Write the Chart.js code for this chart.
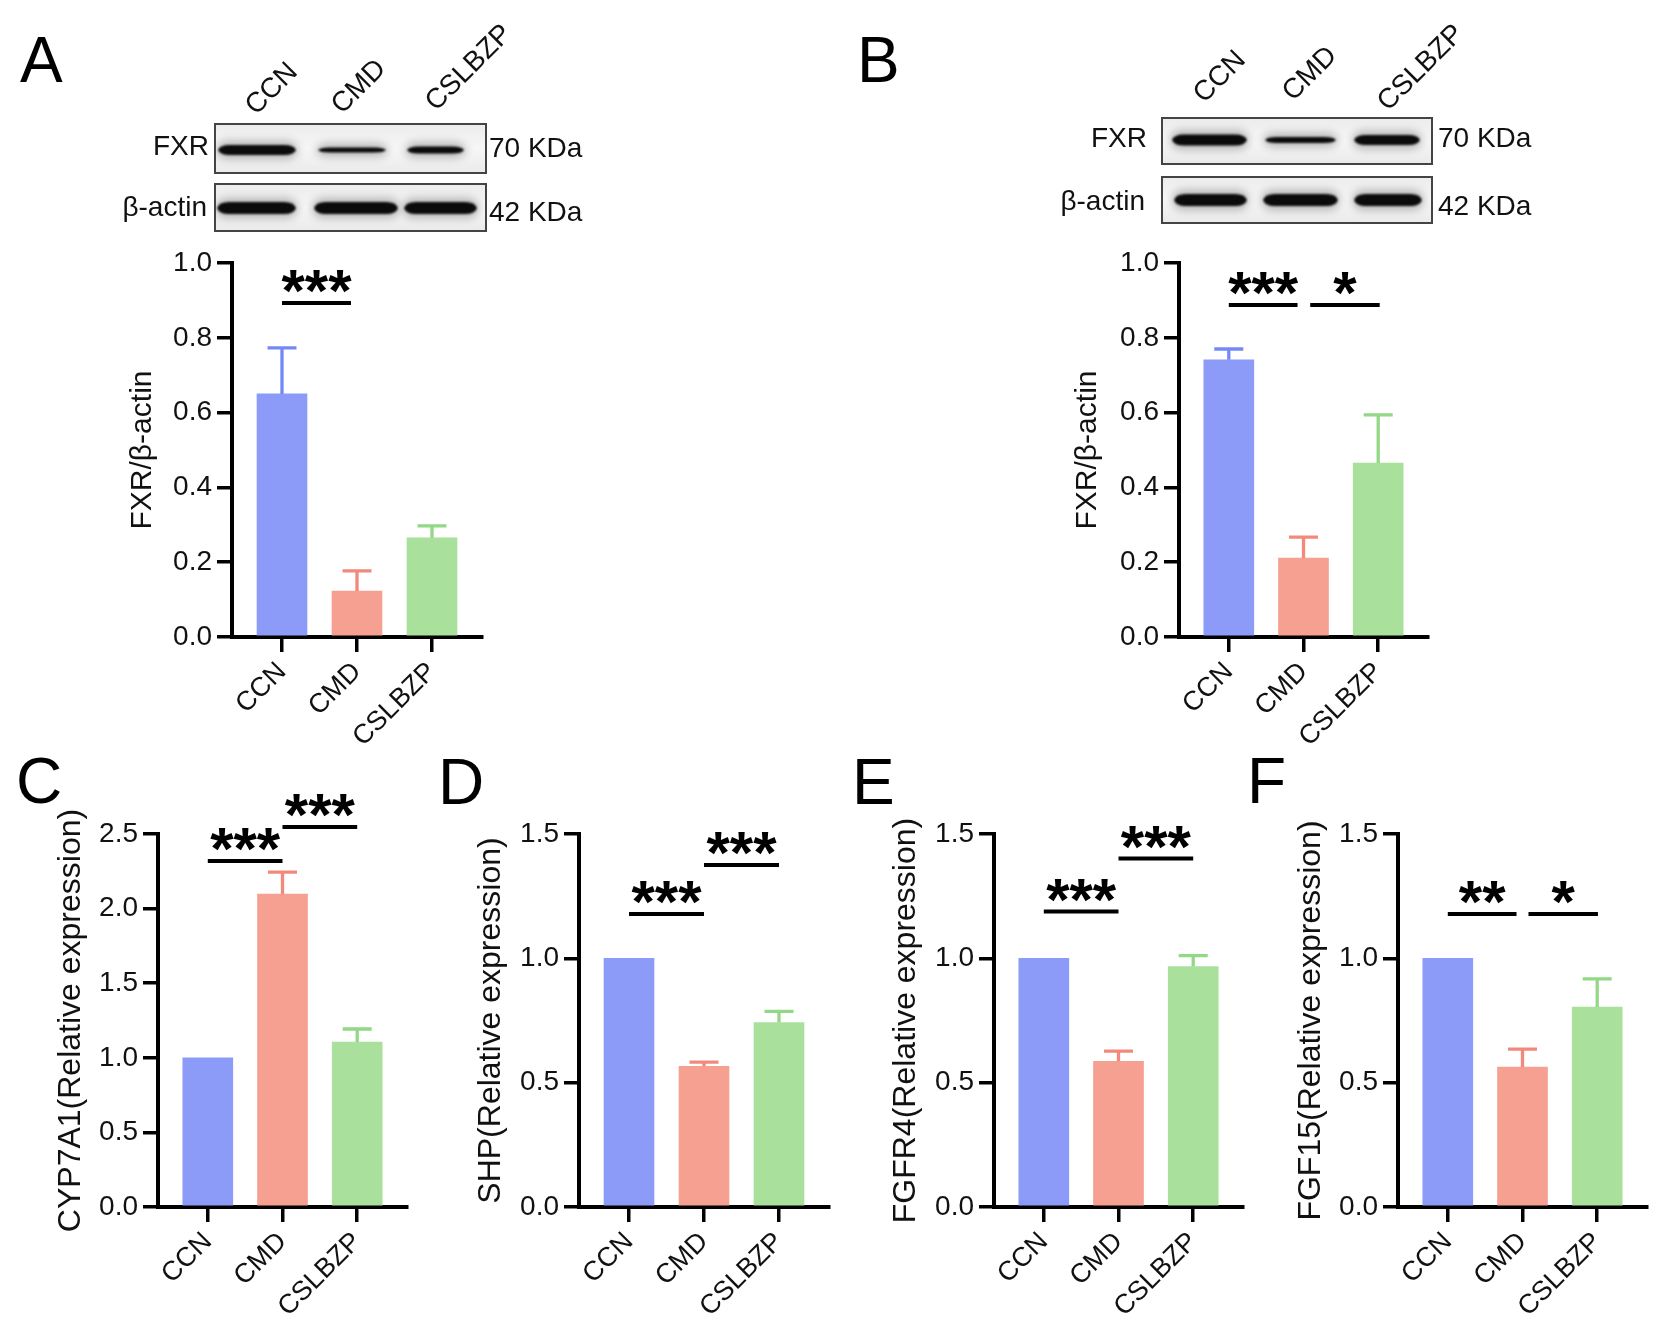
<!DOCTYPE html>
<html>
<head>
<meta charset="utf-8">
<script src="https://cdn.jsdelivr.net/npm/chart.js@4.4.1/dist/chart.umd.min.js"></script>
<style>
  body { margin: 0; background: #fff; width: 1662px; height: 1338px; position: relative; overflow: hidden; }
  canvas { position: absolute; }
</style>
</head>
<body>
<canvas id="pA"></canvas>
<canvas id="pB"></canvas>
<canvas id="pC"></canvas>
<canvas id="pD"></canvas>
<canvas id="pE"></canvas>
<canvas id="pF"></canvas>
<script>
// ===== données =====
const groups = ["CCN", "CMD", "CSLBZP"];

const fxrA = [0.650, 0.123, 0.265];
const fxrAErr = [0.123, 0.054, 0.032];
const fxrB = [0.741, 0.211, 0.465];
const fxrBErr = [0.029, 0.056, 0.129];
const cyp7a1 = [1.0, 2.098, 1.106];
const cyp7a1Err = [0, 0.147, 0.087];
const shp = [1.0, 0.566, 0.742];
const shpErr = [0, 0.017, 0.045];
const fgfr4 = [1.0, 0.586, 0.967];
const fgfr4Err = [0, 0.041, 0.044];
const fgf15 = [1.0, 0.563, 0.804];
const fgf15Err = [0, 0.072, 0.113];

// graduations
const yTicksFxr = [0, 0.2, 0.4, 0.6, 0.8, 1.0];
const yTicksCyp = [0, 0.5, 1.0, 1.5, 2.0, 2.5];
const yTicksRel = [0, 0.5, 1.0, 1.5];

// significativité : [de, à, hauteur, texte]
const sigA = [[0, 0.92, 0.893, "***"]];
const sigB = [[0, 0.92, 0.888, "***"], [1.09, 2.02, 0.888, "*"]];
const sigC = [[0, 1, 2.319, "***"], [1, 2, 2.547, "***"]];
const sigD = [[0, 1, 1.178, "***"], [1, 2, 1.375, "***"]];
const sigE = [[0, 1, 1.188, "***"], [1, 2, 1.401, "***"]];
const sigF = [[0, 0.92, 1.178, "**"], [1.08, 2.01, 1.178, "*"]];

// ===== styles =====
const FONT = '"Liberation Sans", Arial, sans-serif';
const barColors = ["#8c9bf8", "#f5a091", "#a9e09b"];
const errColors = ["#7489f6", "#f2897a", "#93d886"];

Chart.defaults.font.family = FONT;
Chart.defaults.color = "#111";

// western blots (image décorative)
const blotA = {
  rows: [
    { box: [215, 124, 486, 173], cy: 150, bands: [[218, 296, 10], [318, 386, 5], [407, 464, 7]],
      name: "FXR", nameX: 209, nameY: 155, kda: "70 KDa", kdaX: 489, kdaY: 157 },
    { box: [215, 184, 486, 231], cy: 208, bands: [[217, 296, 12], [314, 398, 12], [404, 477, 12]],
      name: "β-actin", nameX: 207, nameY: 216, kda: "42 KDa", kdaX: 489, kdaY: 221 }
  ],
  lanes: [[256, 116], [342, 115], [436, 112]]
};
const blotB = {
  rows: [
    { box: [1162, 118, 1432, 164], cy: 140, bands: [[1172, 1247, 11], [1265, 1336, 6], [1354, 1420, 10]],
      name: "FXR", nameX: 1147, nameY: 147, kda: "70 KDa", kdaX: 1438, kdaY: 147 },
    { box: [1162, 177, 1432, 223], cy: 200, bands: [[1174, 1247, 12], [1263, 1338, 12], [1354, 1422, 12]],
      name: "β-actin", nameX: 1145, nameY: 210, kda: "42 KDa", kdaX: 1438, kdaY: 215 }
  ],
  lanes: [[1204, 104], [1293, 102], [1388, 112]]
};

const panels = [
  { id: "pA", left: 0, top: 0, w: 640, h: 745, pad: [125, 158, 263], yW: 107, xH: 108,
    values: fxrA, err: fxrAErr, yTicks: yTicksFxr, title: "FXR/β-actin", titleSize: 30,
    sig: sigA, letter: ["A", 20, 82], blot: blotA },
  { id: "pB", left: 830, top: 0, w: 832, h: 745, pad: [240, 234, 263], yW: 109, xH: 108,
    values: fxrB, err: fxrBErr, yTicks: yTicksFxr, title: "FXR/β-actin", titleSize: 30,
    sig: sigB, letter: ["B", 857, 82], blot: blotB },
  { id: "pC", left: 0, top: 740, w: 420, h: 598, pad: [52, 13, 94], yW: 106, xH: 131,
    values: cyp7a1, err: cyp7a1Err, yTicks: yTicksCyp, title: "CYP7A1(Relative expression)", titleSize: 32,
    sig: sigC, letter: ["C", 16, 803] },
  { id: "pD", left: 420, top: 740, w: 420, h: 598, pad: [52, 11, 94], yW: 107, xH: 131,
    values: shp, err: shpErr, yTicks: yTicksRel, title: "SHP(Relative expression)", titleSize: 32,
    sig: sigD, letter: ["D", 438, 804] },
  { id: "pE", left: 840, top: 740, w: 410, h: 598, pad: [47, 7, 94], yW: 107, xH: 131,
    values: fgfr4, err: fgfr4Err, yTicks: yTicksRel, title: "FGFR4(Relative expression)", titleSize: 32,
    sig: sigE, letter: ["E", 852, 804] },
  { id: "pF", left: 1230, top: 740, w: 432, h: 598, pad: [62, 15, 94], yW: 106, xH: 131,
    values: fgf15, err: fgf15Err, yTicks: yTicksRel, title: "FGF15(Relative expression)", titleSize: 32,
    sig: sigF, letter: ["F", 1247, 803] }
];

function bandPath(ctx, a, c, cy, h) {
  const r = Math.min(12, (c - a) / 4);
  ctx.beginPath();
  ctx.moveTo(a, cy);
  ctx.quadraticCurveTo(a + 2, cy - h / 2, a + r, cy - h / 2);
  ctx.lineTo(c - r, cy - h / 2);
  ctx.quadraticCurveTo(c - 2, cy - h / 2, c, cy);
  ctx.quadraticCurveTo(c - 2, cy + h / 2, c - r, cy + h / 2);
  ctx.lineTo(a + r, cy + h / 2);
  ctx.quadraticCurveTo(a + 2, cy + h / 2, a, cy);
  ctx.closePath();
}

function drawBlot(ctx, b) {
  b.rows.forEach((row) => {
    const [x0, y0, x1, y1] = row.box;
    const g = ctx.createLinearGradient(0, y0, 0, y1);
    g.addColorStop(0, "#ececec");
    g.addColorStop(0.5, "#f6f6f6");
    g.addColorStop(1, "#eaeaea");
    ctx.fillStyle = g;
    ctx.fillRect(x0, y0, x1 - x0, y1 - y0);

    ctx.save();
    ctx.beginPath();
    ctx.rect(x0, y0, x1 - x0, y1 - y0);
    ctx.clip();
    row.bands.forEach(([a, c, h]) => {
      // halo
      ctx.filter = "blur(4px)";
      ctx.fillStyle = "rgba(0,0,0,0.25)";
      bandPath(ctx, a - 2, c + 2, row.cy, h + 8);
      ctx.fill();
      // bande
      ctx.filter = "blur(1.2px)";
      ctx.fillStyle = "#0b0b0b";
      bandPath(ctx, a, c, row.cy, h);
      ctx.fill();
    });
    ctx.restore();

    ctx.strokeStyle = "#444";
    ctx.lineWidth = 2;
    ctx.strokeRect(x0, y0, x1 - x0, y1 - y0);

    ctx.fillStyle = "#111";
    ctx.font = "28px " + FONT;
    ctx.textBaseline = "alphabetic";
    ctx.textAlign = "right";
    ctx.fillText(row.name, row.nameX, row.nameY);
    ctx.textAlign = "left";
    ctx.fillText(row.kda, row.kdaX, row.kdaY);
  });

  ctx.font = "28px " + FONT;
  ctx.textAlign = "left";
  b.lanes.forEach(([x, y], i) => {
    ctx.save();
    ctx.translate(x, y);
    ctx.rotate(-Math.PI / 4);
    ctx.fillText(groups[i], 0, 0);
    ctx.restore();
  });
}

function extras(p) {
  return {
    id: "extras" + p.id,
    afterDatasetsDraw(chart) {
      const ctx = chart.ctx;
      const xs = chart.scales.x;
      const ys = chart.scales.y;
      const meta = chart.getDatasetMeta(0);

      // barres d'erreur (SEM vers le haut)
      meta.data.forEach((bar, i) => {
        const e = p.err[i];
        if (!e) return;
        const top = ys.getPixelForValue(p.values[i] + e);
        ctx.save();
        ctx.strokeStyle = errColors[i];
        ctx.lineWidth = 3.3;
        ctx.beginPath();
        ctx.moveTo(bar.x, bar.y);
        ctx.lineTo(bar.x, top);
        ctx.moveTo(bar.x - 14.5, top);
        ctx.lineTo(bar.x + 14.5, top);
        ctx.stroke();
        ctx.restore();
      });

      // traits + étoiles
      p.sig.forEach(([a, b, v, txt]) => {
        const xa = xs.getPixelForValue(a);
        const xb = xs.getPixelForValue(b);
        const yy = ys.getPixelForValue(v);
        ctx.save();
        ctx.strokeStyle = "#000";
        ctx.lineWidth = 4;
        ctx.beginPath();
        ctx.moveTo(xa, yy);
        ctx.lineTo(xb, yy);
        ctx.stroke();
        ctx.fillStyle = "#000";
        ctx.font = "bold 60px " + FONT;
        ctx.textAlign = "center";
        ctx.textBaseline = "alphabetic";
        ctx.fillText(txt, (xa + xb) / 2, yy + 8);
        ctx.restore();
      });
    },
    afterDraw(chart) {
      const ctx = chart.ctx;
      ctx.save();
      ctx.translate(-p.left, -p.top);
      ctx.fillStyle = "#000";
      ctx.font = "64px " + FONT;
      ctx.textAlign = "left";
      ctx.textBaseline = "alphabetic";
      ctx.fillText(p.letter[0], p.letter[1], p.letter[2]);
      if (p.blot) drawBlot(ctx, p.blot);
      ctx.restore();
    }
  };
}

panels.forEach((p) => {
  const cv = document.getElementById(p.id);
  cv.width = p.w;
  cv.height = p.h;
  cv.style.left = p.left + "px";
  cv.style.top = p.top + "px";
  cv.style.width = p.w + "px";
  cv.style.height = p.h + "px";

  const yMax = p.yTicks[p.yTicks.length - 1];

  new Chart(cv, {
    type: "bar",
    data: {
      datasets: [
        {
          data: p.values.map((v, i) => ({ x: i, y: v })),
          backgroundColor: barColors,
          borderWidth: 0,
          barThickness: 50
        }
      ]
    },
    options: {
      responsive: false,
      animation: false,
      devicePixelRatio: 1,
      layout: { padding: { left: p.pad[0], right: p.pad[1], top: p.pad[2], bottom: 0 } },
      plugins: { legend: { display: false }, tooltip: { enabled: false } },
      scales: {
        x: {
          type: "linear",
          offset: false,
          min: -2 / 3,
          max: groups.length - 1 + 2 / 3,
          afterBuildTicks: (s) => { s.ticks = groups.map((g, i) => ({ value: i })); },
          afterFit: (s) => { s.height = p.xH; },
          ticks: {
            callback: (v) => groups[v],
            autoSkip: false,
            minRotation: 45,
            maxRotation: 45,
            padding: 4,
            font: { size: 27 },
            color: "#111"
          },
          grid: { offset: false, drawOnChartArea: false, drawTicks: true, tickLength: 15, lineWidth: 3.5, color: "#000" },
          border: { display: true, width: 4, color: "#000" }
        },
        y: {
          min: 0,
          max: yMax,
          afterBuildTicks: (s) => { s.ticks = p.yTicks.map((v) => ({ value: v })); },
          afterFit: (s) => { s.width = p.yW; },
          ticks: {
            callback: (v) => v.toFixed(1),
            padding: 5,
            font: { size: 28 },
            color: "#111"
          },
          grid: { drawOnChartArea: false, drawTicks: true, tickLength: 15, lineWidth: 3.5, color: "#000" },
          border: { display: true, width: 4, color: "#000" },
          title: { display: true, text: p.title, font: { size: p.titleSize }, color: "#111", padding: 0 }
        }
      }
    },
    plugins: [extras(p)]
  });
});
</script>
</body>
</html>
